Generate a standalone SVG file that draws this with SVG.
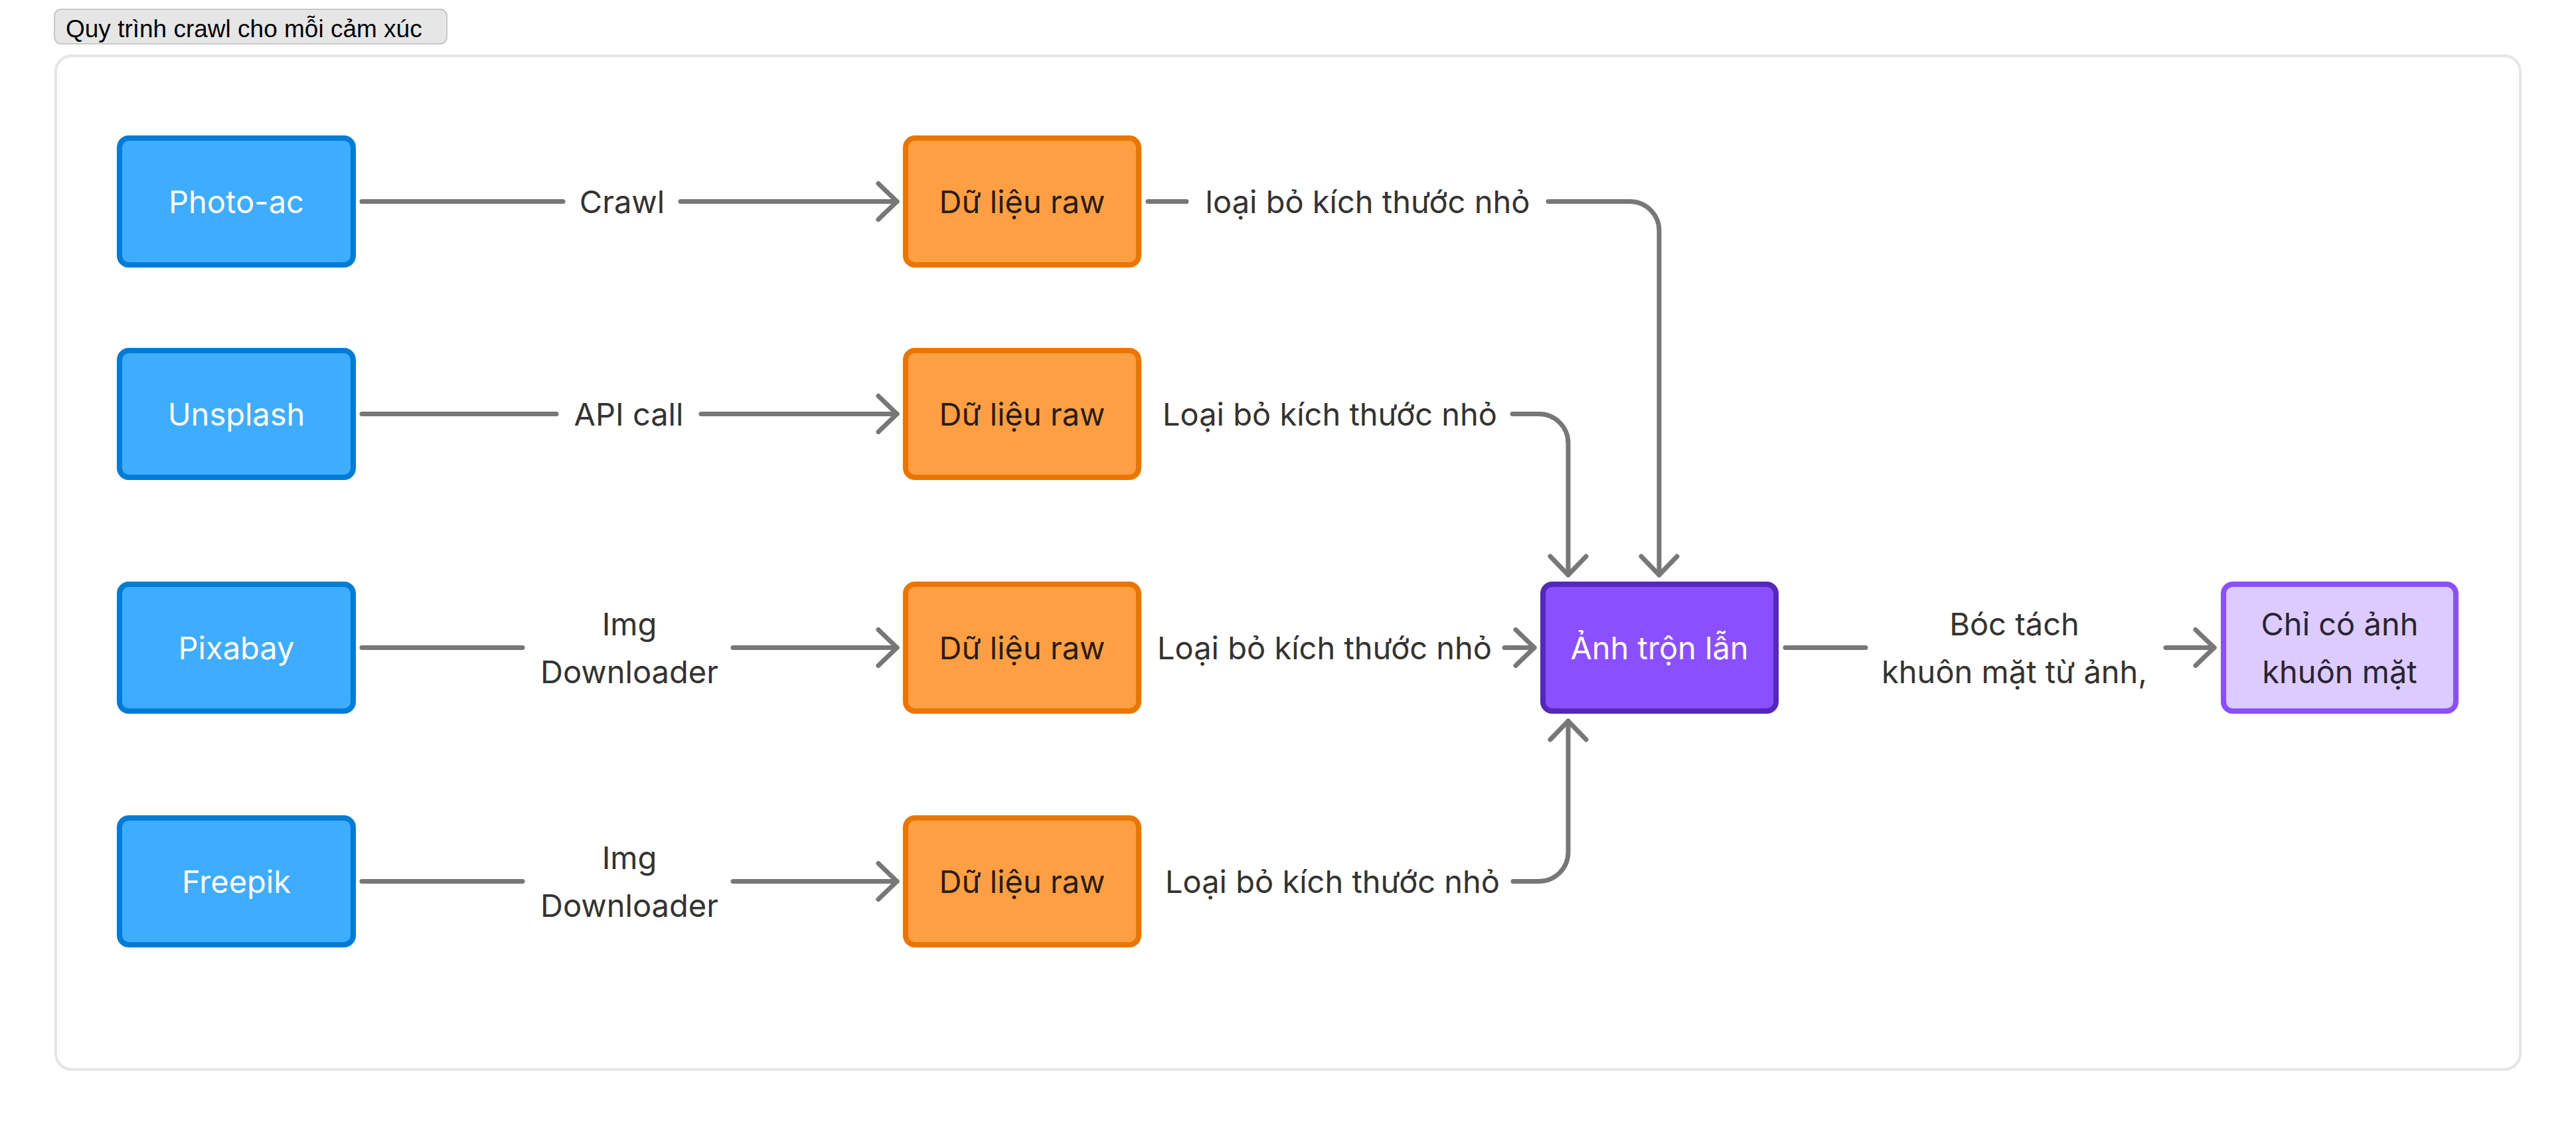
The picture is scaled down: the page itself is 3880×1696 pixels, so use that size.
<svg xmlns="http://www.w3.org/2000/svg" width="3880" height="1696" viewBox="0 0 3880 1696">
<defs>
<style>
text{font-family:Inter,"Noto Sans","Liberation Sans",sans-serif;font-size:47px;text-anchor:middle}
.title{font-family:"Liberation Sans",Arial,sans-serif;font-size:37px;text-anchor:start;fill:#000}
.blue rect{fill:#3fadff;stroke:#007bd6;stroke-width:8}
.blue text{fill:#ffffff}
.orange rect{fill:#ff9f43;stroke:#ec7500;stroke-width:8}
.orange text{fill:#2b1d0e}
.purple rect{fill:#8a50ff;stroke:#5428b8;stroke-width:8}
.purple text{fill:#ffffff}
.light rect{fill:#dccbff;stroke:#8a50ff;stroke-width:8}
.light text{fill:#2a2433}
.edge{fill:none;stroke:#777777;stroke-width:7;stroke-linecap:round;stroke-linejoin:round}
.lbl{fill:#333333}
</style>
<marker id="arr" markerUnits="userSpaceOnUse" viewBox="-34 -32 40 64" refX="0" refY="0" markerWidth="40" markerHeight="64" orient="auto" overflow="visible">
<path d="M-28,-27 L0,0 L-28,27" fill="none" stroke="#777777" stroke-width="7" stroke-linecap="round" stroke-linejoin="round"/>
</marker>
</defs>
<rect x="0" y="0" width="3880" height="1696" fill="#ffffff"/>
<g id="frame">
<rect x="84" y="84" width="3712" height="1527" rx="24" fill="#ffffff" stroke="#e5e5e5" stroke-width="4"/>
</g>
<g id="title">
<rect x="82" y="14" width="591" height="52" rx="10" fill="#e6e6e6" stroke="#c8c8c8" stroke-width="2"/>
<text class="title" x="99" y="56">Quy trình crawl cho mỗi cảm xúc</text>
</g>
<g id="connectors">
<path class="edge" d="M545,303.5 H848"/>
<path class="edge" d="M1025,303.5 H1351" marker-end="url(#arr)"/>
<text class="lbl" x="937" y="321">Crawl</text>
<path class="edge" d="M545,623.5 H838"/>
<path class="edge" d="M1056,623.5 H1351" marker-end="url(#arr)"/>
<text class="lbl" x="947" y="641">API call</text>
<path class="edge" d="M545,975.5 H787"/>
<path class="edge" d="M1104,975.5 H1351" marker-end="url(#arr)"/>
<text class="lbl" x="948" y="957">Img</text>
<text class="lbl" x="948" y="1029">Downloader</text>
<path class="edge" d="M545,1327.5 H787"/>
<path class="edge" d="M1104,1327.5 H1351" marker-end="url(#arr)"/>
<text class="lbl" x="948" y="1309">Img</text>
<text class="lbl" x="948" y="1381">Downloader</text>
<path class="edge" d="M1729,303.5 H1787"/>
<path class="edge" d="M2332,303.5 H2455 A44,44 0 0 1 2499,347.5 V866" marker-end="url(#arr)"/>
<text class="lbl" x="2060" y="321">loại bỏ kích thước nhỏ</text>
<path class="edge" d="M2278,623.5 H2318 A44,44 0 0 1 2362,667.5 V866" marker-end="url(#arr)"/>
<text class="lbl" x="2003" y="641">Loại bỏ kích thước nhỏ</text>
<path class="edge" d="M2266,975.5 H2311" marker-end="url(#arr)"/>
<text class="lbl" x="1995" y="993">Loại bỏ kích thước nhỏ</text>
<path class="edge" d="M2279,1327.5 H2318 A44,44 0 0 0 2362,1283.5 V1086" marker-end="url(#arr)"/>
<text class="lbl" x="2007" y="1345">Loại bỏ kích thước nhỏ</text>
<path class="edge" d="M2689,975.5 H2810"/>
<path class="edge" d="M3262,975.5 H3335" marker-end="url(#arr)"/>
<text class="lbl" x="3034" y="957">Bóc tách</text>
<text class="lbl" x="3034" y="1029">khuôn mặt từ ảnh,</text>
</g>
<g id="node-photoac" class="blue"><rect x="180" y="208" width="352" height="191" rx="14"/><text x="356" y="321">Photo-ac</text></g>
<g id="node-unsplash" class="blue"><rect x="180" y="528" width="352" height="191" rx="14"/><text x="356" y="641">Unsplash</text></g>
<g id="node-pixabay" class="blue"><rect x="180" y="880" width="352" height="191" rx="14"/><text x="356" y="993">Pixabay</text></g>
<g id="node-freepik" class="blue"><rect x="180" y="1232" width="352" height="191" rx="14"/><text x="356" y="1345">Freepik</text></g>
<g id="node-raw1" class="orange"><rect x="1364" y="208" width="351" height="191" rx="14"/><text x="1539.5" y="321">Dữ liệu raw</text></g>
<g id="node-raw2" class="orange"><rect x="1364" y="528" width="351" height="191" rx="14"/><text x="1539.5" y="641">Dữ liệu raw</text></g>
<g id="node-raw3" class="orange"><rect x="1364" y="880" width="351" height="191" rx="14"/><text x="1539.5" y="993">Dữ liệu raw</text></g>
<g id="node-raw4" class="orange"><rect x="1364" y="1232" width="351" height="191" rx="14"/><text x="1539.5" y="1345">Dữ liệu raw</text></g>
<g id="node-mixed" class="purple"><rect x="2324" y="880" width="351" height="191" rx="14"/><text x="2499.5" y="993">Ảnh trộn lẫn</text></g>
<g id="node-faces" class="light"><rect x="3349" y="880" width="350" height="191" rx="14"/><text x="3524" y="957">Chỉ có ảnh</text><text x="3524" y="1029">khuôn mặt</text></g>
</svg>
